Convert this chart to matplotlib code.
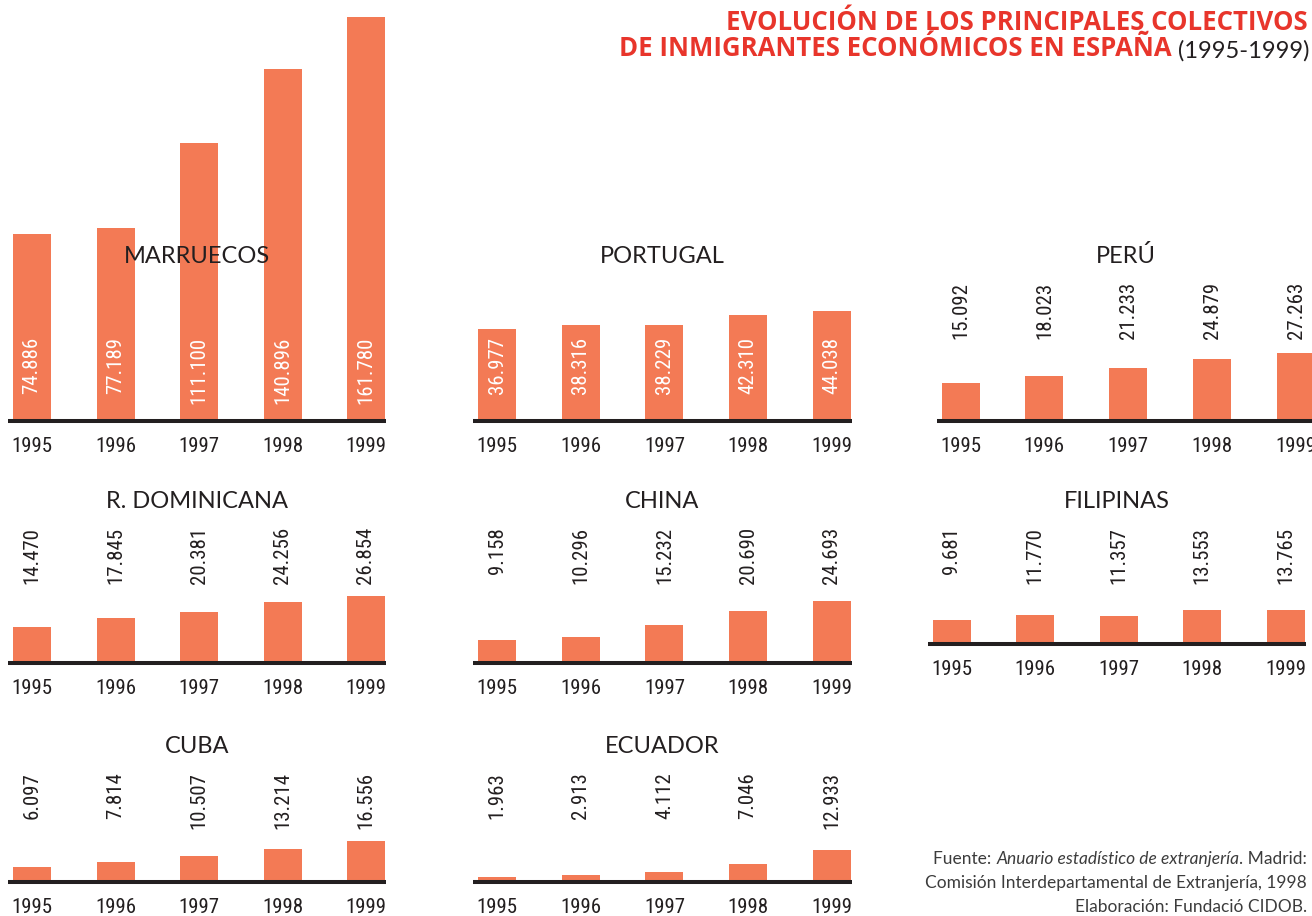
import matplotlib
matplotlib.use('Agg')
import matplotlib.pyplot as plt
from matplotlib import font_manager

years = ['1995', '1996', '1997', '1998', '1999']

marruecos = [74886, 77189, 111100, 140896, 161780]
portugal = [36977, 38316, 38229, 42310, 44038]
peru = [15092, 18023, 21233, 24879, 27263]
dominicana = [14470, 17845, 20381, 24256, 26854]
china = [9158, 10296, 15232, 20690, 24693]
filipinas = [9681, 11770, 11357, 13553, 13765]
cuba = [6097, 7814, 10507, 13214, 16556]
ecuador = [1963, 2913, 4112, 7046, 12933]

ORANGE = '#F37A55'
DARK = '#231F20'
RED = '#E8352B'
GREY = '#3C3C3C'


def pick_font(names):
    for n in names:
        try:
            font_manager.findfont(n, fallback_to_default=False)
            return n
        except Exception:
            pass
    return 'DejaVu Sans'


def narrow_font():
    # look for any condensed / narrow sans face that is installed
    wanted = ['Liberation Sans Narrow', 'Roboto Condensed', 'DejaVu Sans Condensed',
              'Open Sans Condensed', 'Noto Sans Condensed']
    fonts = font_manager.fontManager.ttflist
    for w in wanted:
        for f in fonts:
            full = f.name + ' ' + str(f.stretch)
            if (f.name == w or (w.split()[-1].lower() in full.lower() and f.name.startswith(w.split()[0]))) \
                    and f.style == 'normal' and f.weight in (400, 'normal', 'regular', 'book'):
                return font_manager.FontProperties(fname=f.fname)
    for f in fonts:
        if ('condensed' in str(f.stretch).lower() or 'narrow' in f.name.lower()
                or 'condensed' in f.name.lower()) and f.style == 'normal':
            return font_manager.FontProperties(fname=f.fname)
    return font_manager.FontProperties(family='DejaVu Sans')


NARROW = narrow_font()
SANS = pick_font(['Lato', 'Open Sans', 'DejaVu Sans'])
HEAD = pick_font(['Open Sans', 'Lato', 'DejaVu Sans'])

W, H = 1312, 916
SCALE = 0.0025  # pixels per person

fig = plt.figure(figsize=(W / 100, H / 100), dpi=100)


def fmt(v):
    return f'{v:,}'.replace(',', '.')


def px(x, y):
    return x / W, 1 - y / H


def nprop(size):
    p = NARROW.copy()
    p.set_size(size)
    return p


# name, values, first bar centre, spacing, baseline, top of value labels, labels inside bars
panels = [
    ('MARRUECOS', marruecos, 32, 83.5, 421, 337, True),
    ('PORTUGAL', portugal, 497, 83.7, 421, 337, True),
    ('PERÚ', peru, 960.5, 83.9, 421, 282, False),
    ('R. DOMINICANA', dominicana, 32, 83.5, 663, 527, False),
    ('CHINA', china, 497, 83.7, 663, 527, False),
    ('FILIPINAS', filipinas, 951.5, 83.5, 644, 527, False),
    ('CUBA', cuba, 32, 83.5, 882, 772, False),
    ('ECUADOR', ecuador, 497, 83.7, 882, 772, False),
]
title_base = {421: 263, 663: 508, 644: 508, 882: 753}

for name, vals, x0, sp, base, ltop, inside in panels:
    left = x0 - 0.5 * sp
    width = 5 * sp
    height = 430
    ax = fig.add_axes([left / W, (H - base) / H, width / W, height / H])
    ax.patch.set_visible(False)
    ax.set_xlim(-0.5, 4.5)
    ax.set_ylim(0, height / SCALE)
    ax.bar(range(5), vals, width=38 / sp, color=ORANGE, zorder=1)
    ax.hlines(0, -24 / sp, 4 + 20 / sp, color=DARK, lw=2.9, clip_on=False, zorder=3)
    for s in ax.spines.values():
        s.set_visible(False)
    ax.set_yticks([])
    ax.set_xticks(range(5), years)
    ax.tick_params(axis='x', length=0, pad=11.5, labelcolor=DARK)
    for lab in ax.get_xticklabels():
        lab.set_fontproperties(nprop(15))
    for i, v in enumerate(vals):
        ax.text(i, (base - ltop) / SCALE, fmt(v), rotation=90, ha='center', va='top',
                fontproperties=nprop(15), color='white' if inside else DARK, zorder=4)
    cx = x0 + 2 * sp - 2
    fig.text(*px(cx, title_base[base]), name, ha='center', va='baseline',
             fontsize=17, family=SANS, color=DARK)

# main title
fig.text(*px(1308, 30), 'EVOLUCIÓN DE LOS PRINCIPALES COLECTIVOS', ha='right',
         va='baseline', fontsize=18.5, family=HEAD, fontweight='bold', color=RED)
t2 = fig.text(*px(1309, 58), ' (1995-1999)', ha='right', va='baseline',
              fontsize=17, family=SANS, color=DARK)
fig.add_artist(plt.Annotation('DE INMIGRANTES ECONÓMICOS EN ESPAÑA', xy=(0, 0), xycoords=t2,
                              ha='right', va='bottom', fontsize=18.5, family=HEAD,
                              fontweight='bold', color=RED))

# source note
f1 = fig.text(*px(1307, 864), '. Madrid:', ha='right', va='baseline',
              fontsize=12.5, family=SANS, color=GREY)
f2 = plt.Annotation('Anuario estadístico de extranjería', xy=(0, 0), xycoords=f1,
                    ha='right', va='bottom', fontsize=12.5, family=SANS, style='italic',
                    color=GREY)
fig.add_artist(f2)
fig.add_artist(plt.Annotation('Fuente: ', xy=(0, 0), xycoords=f2, ha='right', va='bottom',
                              fontsize=12.5, family=SANS, color=GREY))
fig.text(*px(1307, 888), 'Comisión Interdepartamental de Extranjería, 1998', ha='right',
         va='baseline', fontsize=12.5, family=SANS, color=GREY)
fig.text(*px(1307, 912), 'Elaboración: Fundació CIDOB.', ha='right', va='baseline',
         fontsize=12.5, family=SANS, color=GREY)

fig.savefig('out.png', dpi=100)
